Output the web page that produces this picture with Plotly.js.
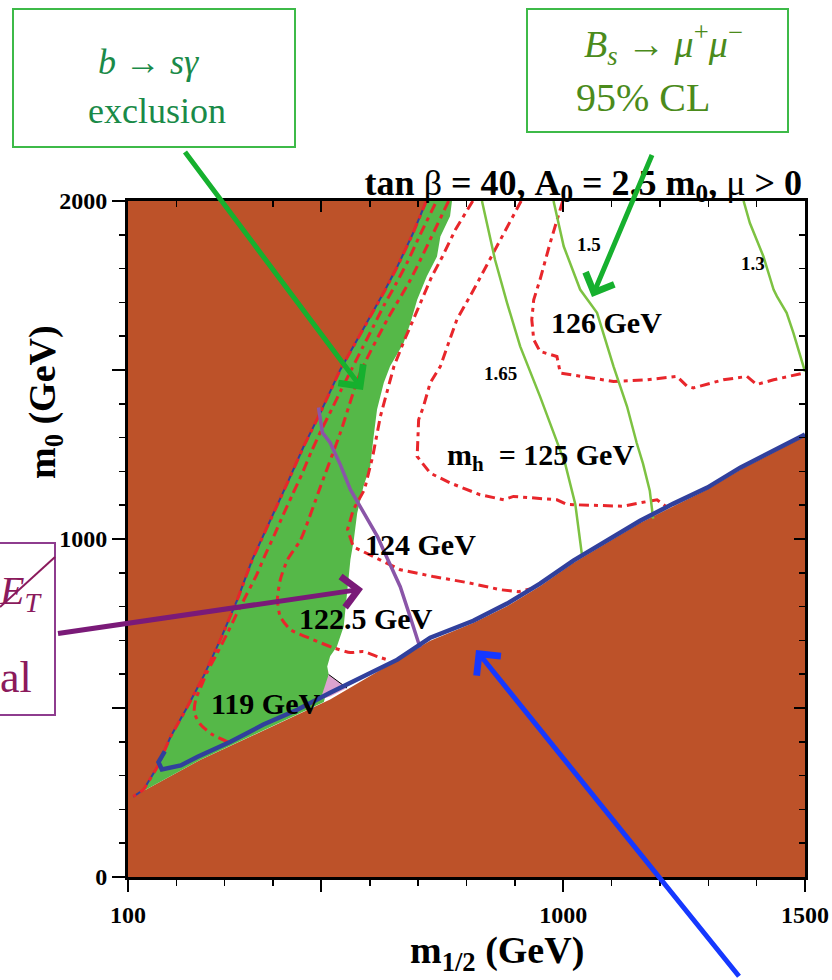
<!DOCTYPE html>
<html><head><meta charset="utf-8">
<script src="https://cdn.plot.ly/plotly-3.0.1.min.js"></script>
<style>html,body{margin:0;padding:0;background:#fff;}#chart{width:832px;height:980px;}</style>
</head><body><div id="chart"></div>
<script>
// ---------------- data (m_1/2 , m_0 in GeV) ----------------
const xTickVals = [100, 500, 1000, 1500];
const xTickText = ['100', '', '1000', '1500'];
const yTickVals = [0, 500, 1000, 1500, 2000];
const yTickText = ['0', '', '1000', '', '2000'];

// boundary of the left excluded (brown) region, top -> tip
const leftEdgeX = [717, 688, 657, 630, 601, 570, 539, 498, 463, 430, 395, 357, 326, 291, 256, 223, 188, 161, 132, 111];
const leftEdgeY = [2000, 1900, 1806, 1732, 1658, 1581, 1501, 1374, 1273, 1167, 1057, 939, 820, 702, 593, 504, 415, 326, 258, 238];
// boundary of the lower-right excluded (brown) region, tip -> right edge
const lowerEdgeX = [111, 250, 518, 725, 815, 884, 952, 1021, 1090, 1159, 1228, 1297, 1366, 1435, 1500];
const lowerEdgeY = [238, 347, 525, 699, 752, 801, 860, 929, 988, 1047, 1097, 1146, 1205, 1255, 1304];

// right edge of the b -> s gamma excluded (green) band, top -> bottom
const greenRightX = [770, 766, 746, 739, 718, 698, 684, 670, 642, 629, 615, 608, 601, 587, 574, 567, 560, 553, 546, 532, 518, 512, 515, 512, 505];
const greenRightY = [2000, 1955, 1895, 1836, 1777, 1708, 1639, 1580, 1511, 1462, 1383, 1304, 1215, 1156, 1077, 998, 939, 840, 741, 682, 653, 623, 599, 555, 518];

// small pink patch
const pinkX = [515, 553, 518, 498];
const pinkY = [599, 559, 534, 525];

// Higgs mass contours
const mh119X = [306, 275, 250, 237, 240, 250, 264, 283, 304, 324, 345, 366, 384, 403, 421, 440, 459, 479, 500, 521, 541, 562, 585, 607, 630, 653, 678, 704, 738];
const mh119Y = [400, 421, 451, 486, 525, 560, 607, 658, 717, 776, 835, 894, 954, 1013, 1072, 1131, 1190, 1258, 1323, 1383, 1442, 1501, 1566, 1628, 1693, 1752, 1820, 1900, 2000];
const mh122X = [763, 684, 636, 580, 539, 498, 457, 430, 415, 409, 415, 436, 483, 525, 560, 587, 616, 636];
const mh122Y = [2000, 1767, 1649, 1491, 1314, 1155, 998, 939, 880, 820, 770, 732, 702, 678, 664, 667, 652, 643];
const mh124X = [813, 777, 750, 728, 690, 672, 650, 622, 606, 589, 566, 554, 566, 607, 663, 731, 802, 870, 907, 934];
const mh124Y = [2000, 1915, 1835, 1776, 1649, 1590, 1511, 1363, 1244, 1146, 1087, 1028, 977, 948, 909, 889, 871, 850, 844, 853];
const mh125X = [913, 863, 815, 780, 760, 746, 725, 711, 701, 698, 725, 766, 828, 877, 897, 952, 987, 1008, 1076, 1125, 1159, 1194, 1221];
const mh125Y = [2000, 1866, 1738, 1649, 1570, 1511, 1462, 1392, 1353, 1244, 1195, 1166, 1131, 1116, 1126, 1119, 1116, 1102, 1099, 1097, 1107, 1116, 1087];
const mh126X = [999, 983, 973, 952, 939, 935, 939, 952, 987, 994, 1042, 1104, 1173, 1235, 1256, 1269, 1331, 1380, 1400, 1435, 1500];
const mh126Y = [2000, 1925, 1876, 1767, 1708, 1649, 1590, 1555, 1540, 1491, 1481, 1466, 1471, 1481, 1452, 1447, 1471, 1481, 1457, 1471, 1492];

// B_s -> mu mu contours (ratio to SM)
const bs165X = [832, 849, 859, 884, 911, 952, 980, 1004, 1025, 1039];
const bs165Y = [2000, 1895, 1826, 1698, 1570, 1422, 1314, 1223, 1103, 950];
const bs150X = [980, 1001, 1035, 1070, 1104, 1132, 1152, 1165, 1179, 1186];
const bs150Y = [2000, 1866, 1738, 1669, 1511, 1392, 1284, 1223, 1143, 1060];
const bs130X = [1373, 1386, 1414, 1435, 1442, 1462, 1476, 1490, 1500];
const bs130Y = [2000, 1935, 1836, 1738, 1718, 1669, 1610, 1540, 1495];

// missing-ET limit (purple)
const metX = [494, 502, 518, 539, 560, 587, 616, 628, 663, 690, 704];
const metY = [1389, 1315, 1285, 1220, 1146, 1078, 1007, 968, 859, 741, 678];

// dark matter strip (blue)
const blueX = [176, 163, 170, 209, 244, 312, 380, 450, 518, 587, 657, 725, 814, 884, 952, 1021, 1091, 1159, 1227, 1298, 1366, 1434, 1500];
const blueY = [372, 340, 318, 330, 356, 400, 451, 495, 545, 593, 643, 708, 758, 809, 868, 936, 995, 1054, 1104, 1152, 1211, 1261, 1309];

// contour labels
const mhLabelText = ['126 GeV', 'm<sub>h</sub>&nbsp;&nbsp;= 125 GeV', '124 GeV', '122.5 GeV', '119 GeV'];
const mhLabelX = [1090, 952, 704, 593, 384];
const mhLabelY = [1641, 1244, 985, 764, 513];
const bsLabelText = ['1.5', '1.3', '1.65'];
const bsLabelX = [1054, 1392, 870];
const bsLabelY = [1870, 1814, 1489];

// ---------------- geometry helpers for decorations ----------------
const L = 128, R = 805, T = 201, B = 877;
const XR = [100, 1500], YR = [0, 2000];
function dX(px) { return XR[0] + (px - L) * (XR[1] - XR[0]) / (R - L); }
function dY(py) { return YR[0] + (B - py) * (YR[1] - YR[0]) / (B - T); }
function pX(px) { return (px - L) / (R - L); }
function pY(py) { return (B - py) / (B - T); }

const FONT = '"Liberation Serif", "Times New Roman", Times, serif';
const BROWN = '#BD5229', GREEN = '#55B848', RED = '#E8262B', BLUE = '#31409C', PURPLE = '#8A55A8', LGREEN = '#7DC242';
const REDDASH = '10px,5px,4px,5px';

const traces = [];
function poly(x, y, color) {
  traces.push({type: 'scatter', mode: 'lines', x: x, y: y, fill: 'toself', fillcolor: color,
    line: {width: 0, color: 'rgba(0,0,0,0)'}, hoverinfo: 'skip', showlegend: false});
}
function curve(x, y, color, width, dash, shape) {
  traces.push({type: 'scatter', mode: 'lines', x: x, y: y,
    line: {color: color, width: width, dash: dash || 'solid', shape: shape || 'linear', smoothing: 0.6},
    hoverinfo: 'skip', showlegend: false});
}

// brown excluded regions
poly([XR[0]].concat(leftEdgeX, lowerEdgeX.slice(1), [XR[1], XR[0]]),
     [YR[1]].concat(leftEdgeY, lowerEdgeY.slice(1), [YR[0], YR[0]]), BROWN);
// green b->s gamma band
poly(leftEdgeX.slice().reverse().concat(greenRightX, [lowerEdgeX[1], lowerEdgeX[0]]),
     leftEdgeY.slice().reverse().concat(greenRightY, [lowerEdgeY[1], lowerEdgeY[0]]), GREEN);
poly(pinkX, pinkY, '#DDA3CF');
curve([pinkX[0], pinkX[1]], [pinkY[0], pinkY[1]], 'black', 1);

// thin blue wavy edge on the left boundary + red dashed on it
curve(leftEdgeX, leftEdgeY, BLUE, 2);
curve(leftEdgeX, leftEdgeY, RED, 3, REDDASH);

// Higgs contours
curve(mh119X, mh119Y, RED, 3, REDDASH, 'spline');
curve(mh122X, mh122Y, RED, 3, REDDASH, 'spline');
curve(mh124X, mh124Y, RED, 3, REDDASH);
curve(mh125X, mh125Y, RED, 3, REDDASH);
curve(mh126X, mh126Y, RED, 3, REDDASH);

// Bs contours
curve(bs165X, bs165Y, LGREEN, 2.5);
curve(bs150X, bs150Y, LGREEN, 2.5);
curve(bs130X, bs130Y, LGREEN, 2.5);

// purple MET line
curve(metX, metY, PURPLE, 3.5);
// blue strip
curve(blueX, blueY, BLUE, 4.5);

// dummy trace for mirrored (inside) ticks
traces.push({type: 'scatter', x: [null], y: [null], xaxis: 'x2', yaxis: 'y2', showlegend: false, hoverinfo: 'skip'});

const annotations = [];
for (let i = 0; i < mhLabelText.length; i++) {
  annotations.push({x: mhLabelX[i], y: mhLabelY[i], xref: 'x', yref: 'y', text: '<b>' + mhLabelText[i] + '</b>',
    showarrow: false, font: {family: FONT, size: 30, color: 'black'}, xanchor: 'center', yanchor: 'middle'});
}
for (let i = 0; i < bsLabelText.length; i++) {
  annotations.push({x: bsLabelX[i], y: bsLabelY[i], xref: 'x', yref: 'y', text: '<b>' + bsLabelText[i] + '</b>',
    showarrow: false, font: {family: FONT, size: 19, color: 'black'}, xanchor: 'center', yanchor: 'middle'});
}
function ptext(text, px, py, size, color, opts) {
  annotations.push(Object.assign({x: pX(px), y: pY(py), xref: 'paper', yref: 'paper', text: text, showarrow: false,
    font: {family: FONT, size: size, color: color}, xanchor: 'center', yanchor: 'middle'}, opts || {}));
}
// axis titles
ptext('<b>m<sub>1/2</sub> (GeV)</b>', 497, 953, 38, 'black');
ptext('<b>m<sub>0</sub> (GeV)</b>', 45, 402, 38, 'black', {textangle: -90});
// callout box texts
ptext('<i>b</i> → <i>sγ</i>', 148, 62, 36, '#1A8A48');
ptext('exclusion', 157, 111, 36, '#1A8A48');
ptext('<i>B<sub>s</sub></i> → <i>μ</i><sup>+</sup><i>μ</i><sup>−</sup>', 663, 44, 38, '#4B8B1B');
ptext('95% CL', 643, 98, 40, '#4B8B1B');
ptext('<i>E</i><sub><i>T</i></sub>', 44, 593, 40, '#8B1A5C', {xanchor: 'right'});
ptext('al', 34, 677, 44, '#8B1A5C', {xanchor: 'right'});

// arrows: head (px) and tail (px)
function arrow(hx, hy, tx, ty, color) {
  annotations.push({x: dX(hx), y: dY(hy), xref: 'x', yref: 'y', ax: tx - hx, ay: ty - hy, axref: 'pixel', ayref: 'pixel',
    text: ' ', showarrow: true, arrowhead: 4, arrowsize: 1.2, arrowwidth: 5, arrowcolor: color});
}
arrow(363, 390, 182, 148, '#16B02E');
arrow(592, 297, 655, 148, '#16B02E');
arrow(363, 589, 55, 634, '#7A1A78');
arrow(476, 650, 742, 985, '#1538FF');

const shapes = [
  {type: 'rect', xref: 'paper', yref: 'paper', x0: pX(13), x1: pX(295), y0: pY(147), y1: pY(9), line: {color: '#3DBA48', width: 2}, fillcolor: 'white', layer: 'above'},
  {type: 'rect', xref: 'paper', yref: 'paper', x0: pX(527), x1: pX(788), y0: pY(132), y1: pY(9), line: {color: '#3DBA48', width: 2}, fillcolor: 'white', layer: 'above'},
  {type: 'rect', xref: 'paper', yref: 'paper', x0: pX(-30), x1: pX(55), y0: pY(715), y1: pY(543), line: {color: '#8E3C8E', width: 2}, fillcolor: 'white', layer: 'above'},
  {type: 'line', xref: 'paper', yref: 'paper', x0: pX(0), x1: pX(55), y0: pY(607), y1: pY(557), line: {color: '#8B1A5C', width: 2}, layer: 'above'}
];

const tickFont = {family: FONT, size: 24, color: 'black', weight: 'bold'};
const minorOut = {tickmode: 'linear', tick0: 0, dtick: 100, ticks: 'outside', ticklen: 6, tickwidth: 1.5, tickcolor: 'black', showgrid: false};
const minorIn = {tickmode: 'linear', tick0: 0, dtick: 100, ticks: 'inside', ticklen: 6, tickwidth: 1.5, tickcolor: 'black', showgrid: false};

const layout = {
  width: 832, height: 980,
  margin: {l: L, r: 832 - R, t: T, b: 980 - B, pad: 0},
  paper_bgcolor: 'white', plot_bgcolor: 'white',
  showlegend: false,
  title: {text: '<b>tan</b> β <b>= 40, A<sub>0</sub> = 2.5 m<sub>0</sub>,</b> μ <b>&gt; 0</b>',
    xref: 'container', yref: 'container', x: 802 / 832, xanchor: 'right', y: 1 - 182 / 980, yanchor: 'middle',
    font: {family: FONT, size: 36, color: 'black'}},
  xaxis: {range: XR, tickmode: 'array', tickvals: xTickVals, ticktext: xTickText.map(t => t ? '<b>' + t + '</b>' : ''),
    ticks: 'outside', ticklen: 12, tickwidth: 2, tickcolor: 'black', showline: true, linewidth: 3, linecolor: 'black',
    mirror: true, showgrid: false, zeroline: false, tickfont: tickFont, ticklabelstandoff: 2, minor: minorOut, fixedrange: true},
  yaxis: {range: YR, tickmode: 'array', tickvals: yTickVals, ticktext: yTickText.map(t => t ? '<b>' + t + '</b>' : ''),
    ticks: 'outside', ticklen: 13, tickwidth: 2, tickcolor: 'black', showline: true, linewidth: 3, linecolor: 'black',
    mirror: true, showgrid: false, zeroline: false, tickfont: tickFont, ticklabelstandoff: 0, minor: minorOut, fixedrange: true},
  xaxis2: {overlaying: 'x', anchor: 'y2', side: 'top', range: XR, tickmode: 'array', tickvals: [500, 1000, 1500],
    ticks: 'inside', ticklen: 11, tickwidth: 2, tickcolor: 'black', showticklabels: false, showline: false,
    showgrid: false, zeroline: false, minor: minorIn, fixedrange: true},
  yaxis2: {overlaying: 'y', anchor: 'x2', side: 'right', range: YR, tickmode: 'array', tickvals: [500, 1000, 1500],
    ticks: 'inside', ticklen: 11, tickwidth: 2, tickcolor: 'black', showticklabels: false, showline: false,
    showgrid: false, zeroline: false, minor: minorIn, fixedrange: true},
  annotations: annotations,
  shapes: shapes
};

Plotly.newPlot('chart', traces, layout, {displayModeBar: false, staticPlot: true});
</script>
</body></html>
